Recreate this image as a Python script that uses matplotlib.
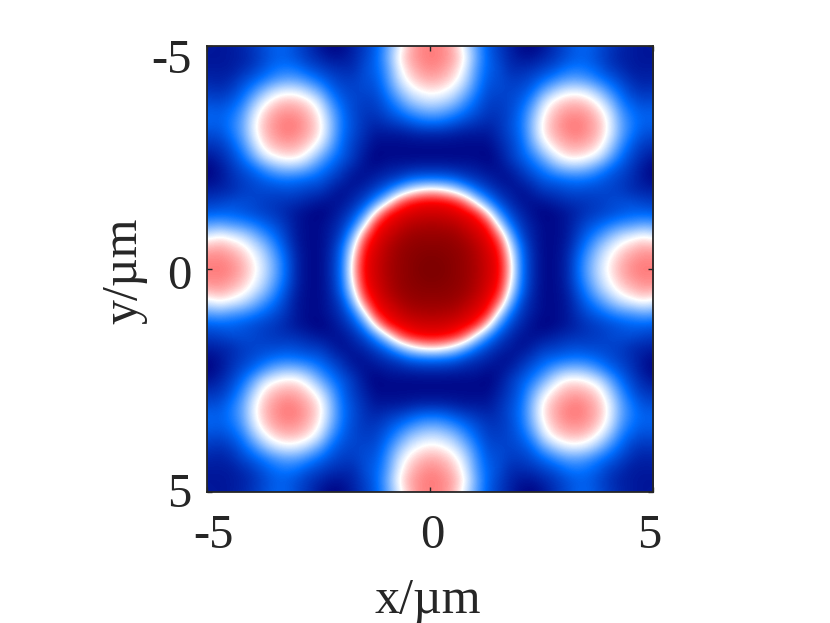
"""Intensity map with central disc and ring of eight spots."""
import matplotlib
matplotlib.use("Agg")
import matplotlib.pyplot as plt
import numpy as np
from matplotlib.colors import LinearSegmentedColormap
from matplotlib.transforms import Affine2D

plt.rcParams["font.family"] = ["Liberation Serif", "DejaVu Serif"]

QUADRANT = [
    [100, 100, 98, 96, 93, 87, 82, 58, 22, 8, 2, 2, 6, 18, 32, 44, 53, 60, 64, 66, 65],
    [100, 99, 98, 96, 92, 87, 81, 55, 21, 8, 2, 2, 6, 17, 30, 42, 51, 58, 62, 64, 64],
    [98, 98, 97, 95, 91, 85, 78, 47, 19, 7, 2, 2, 5, 14, 25, 37, 46, 53, 57, 60, 58],
    [96, 96, 95, 92, 87, 83, 68, 35, 13, 6, 2, 2, 4, 11, 19, 27, 36, 43, 47, 50, 46],
    [93, 92, 91, 87, 84, 77, 47, 21, 10, 5, 2, 2, 4, 9, 14, 18, 23, 27, 29, 32, 30],
    [87, 87, 85, 83, 77, 55, 27, 13, 7, 3, 1, 2, 4, 7, 10, 12, 14, 16, 18, 18, 17],
    [82, 81, 78, 68, 47, 27, 14, 8, 4, 3, 4, 6, 8, 9, 10, 11, 13, 14, 14, 12, 11],
    [58, 55, 47, 35, 21, 13, 8, 5, 3, 6, 10, 11, 13, 14, 13, 13, 12, 11, 8, 7, 6],
    [22, 21, 19, 13, 10, 7, 4, 3, 7, 11, 16, 18, 20, 21, 20, 17, 14, 11, 8, 4, 2],
    [8, 8, 7, 6, 5, 3, 3, 6, 11, 17, 23, 31, 36, 37, 34, 27, 19, 14, 9, 4, 1],
    [2, 2, 2, 2, 2, 1, 4, 10, 16, 23, 34, 45, 52, 53, 50, 44, 31, 19, 12, 7, 4],
    [2, 2, 2, 2, 2, 2, 6, 11, 18, 31, 45, 54, 59, 60, 58, 53, 40, 25, 15, 10, 9],
    [6, 6, 5, 4, 4, 4, 8, 13, 20, 36, 52, 59, 63, 65, 62, 57, 46, 30, 20, 14, 13],
    [18, 17, 14, 11, 9, 7, 9, 14, 21, 37, 53, 60, 65, 66, 63, 58, 47, 31, 22, 17, 18],
    [32, 30, 25, 19, 14, 10, 10, 13, 20, 34, 50, 58, 62, 63, 61, 55, 44, 28, 20, 17, 18],
    [44, 42, 37, 27, 18, 12, 11, 13, 17, 27, 44, 53, 57, 58, 55, 48, 36, 22, 16, 13, 14],
    [53, 51, 46, 36, 23, 14, 13, 12, 14, 19, 31, 40, 46, 47, 44, 36, 25, 17, 11, 9, 10],
    [60, 58, 53, 43, 27, 16, 14, 11, 11, 14, 19, 25, 30, 31, 28, 22, 17, 12, 8, 6, 7],
    [64, 62, 57, 47, 29, 18, 14, 8, 8, 9, 12, 15, 20, 22, 20, 16, 11, 8, 5, 5, 5],
    [66, 64, 60, 50, 32, 18, 12, 7, 4, 4, 7, 10, 14, 17, 17, 13, 9, 6, 5, 4, 4],
    [65, 64, 58, 46, 30, 17, 11, 6, 2, 1, 4, 9, 13, 18, 18, 14, 10, 7, 5, 4, 5],
]
TICKS = [-5, 0, 5]
TICK_LABELS = ["-5", "0", "5"]
CMAP_COLORS = ["#00007f", "#006eff", "#ffffff", "#ff0000", "#7f0000"]
CMAP_STOPS = [0.0, 0.2, 0.5, 0.8, 1.0]

INK = "#262626"


def _nudge(labels, offsets):
    # the original tick labels sit a little off their ticks (pixels)
    for label, (dx, dy) in zip(labels, offsets):
        label.set_transform(label.get_transform() + Affine2D().translate(dx, dy))


def main():
    q = np.array(QUADRANT, dtype=float)
    # picture is symmetric about both axes
    right = np.vstack([q[:0:-1], q])
    grid = np.hstack([right[:, :0:-1], right])

    cmap = LinearSegmentedColormap.from_list("disc", list(zip(CMAP_STOPS, CMAP_COLORS)))

    fig = plt.figure(figsize=(8.3, 6.23), dpi=100)
    ax = fig.add_axes([207 / 830, 1 - 492 / 623, 446 / 830, 446 / 623])
    # half a cell past the limits, and the pattern sits slightly right of the axes centre
    ax.imshow(grid, cmap=cmap, vmin=0, vmax=100, interpolation="bicubic",
              extent=[-5.095, 5.155, 5.125, -5.125], aspect="auto")
    ax.set_xlim(-5, 5)
    ax.set_ylim(5, -5)

    ax.set_xticks(TICKS)
    ax.set_xticklabels(TICK_LABELS)
    ax.set_yticks(TICKS)
    ax.set_yticklabels(TICK_LABELS)
    ax.tick_params(direction="in", length=3.5, width=1, color=INK, labelcolor=INK,
                   labelsize=35, top=True, right=True)
    ax.tick_params(axis="x", pad=16)
    ax.tick_params(axis="y", pad=11)
    _nudge(ax.get_xticklabels(), [(6, 0), (2, 0), (-4, 0)])
    _nudge(ax.get_yticklabels(), [(0, -10), (0, -3), (0, 2)])
    for spine in ax.spines.values():
        spine.set_linewidth(1.3)
        spine.set_color(INK)

    ax.set_xlabel("x/µm", fontsize=36, color=INK, va="baseline")
    ax.xaxis.set_label_coords(0.494, -0.271)
    ax.set_ylabel("y/µm", fontsize=36, color=INK, va="baseline")
    ax.yaxis.set_label_coords(-0.159, 0.4955)

    fig.savefig("out.png", dpi=100)
    plt.close(fig)


if __name__ == "__main__":
    main()
